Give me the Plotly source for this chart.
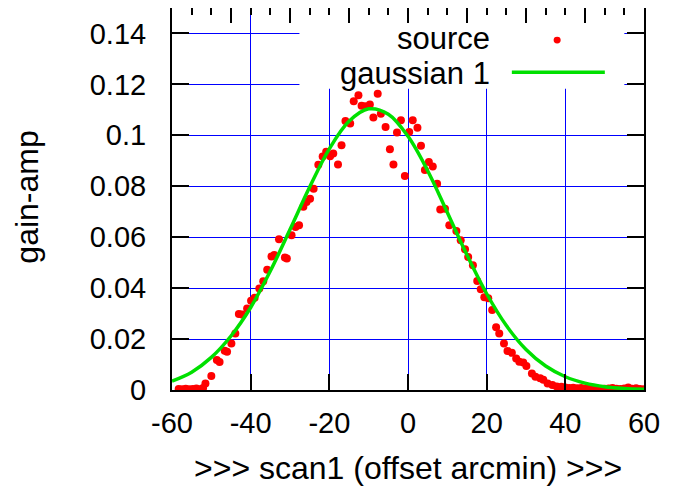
import plotly.graph_objects as go

# measured source points (offset arcmin, gain-amp)
src_x = [-58.3, -57.4, -56.5, -55.6, -54.7, -53.8, -52.9, -52.1, -51.5, -50.0,
         -48.6, -47.9, -46.6, -46.0, -44.9, -43.9, -43.0, -42.2, -40.9, -39.9,
         -39.0, -37.8, -36.8, -35.8, -34.7, -34.0, -32.8, -31.3, -30.8, -29.6,
         -28.6, -27.7, -26.6, -25.8, -24.9, -24.0, -22.8, -21.7, -20.8, -19.8,
         -19.0, -17.8, -16.9, -15.9, -14.7, -13.8, -12.6, -11.8, -10.9, -9.7,
         -8.8, -7.7, -6.9, -5.7, -4.6, -3.7, -2.8, -1.8, -0.8, 0.3,
         1.2, 2.4, 3.3, 4.3, 5.3, 6.3, 7.4, 8.2, 9.4, 10.5,
         12.3, 13.4, 14.5, 15.3, 16.5, 17.6, 18.5, 19.4, 20.4, 21.4,
         22.4, 23.2, 24.4, 25.3, 26.4, 27.5, 28.3, 29.3, 30.1, 31.5,
         32.4, 33.6, 34.4, 35.5, 36.7, 37.8, 39.0, 40.0, 41.0, 42.0,
         43.0, 44.0, 45.0, 46.0, 47.0, 48.0, 49.0, 50.0, 51.0, 52.0,
         53.0, 54.0, 55.0, 56.0, 57.0, 58.0, 59.0, 60.0]
src_y = [0.0004, 0.0003, 0.0005, 0.0003, 0.0004, 0.0006, 0.0003, 0.0008, 0.0026, 0.0055,
         0.0118, 0.0110, 0.0154, 0.0150, 0.0183, 0.0222, 0.0298, 0.0296, 0.0320, 0.0350,
         0.0362, 0.0399, 0.0427, 0.0472, 0.0524, 0.0530, 0.0592, 0.0520, 0.0516, 0.0608,
         0.0640, 0.0647, 0.0720, 0.0738, 0.0751, 0.0790, 0.0884, 0.0917, 0.0936, 0.0918,
         0.0929, 0.0885, 0.0961, 0.1056, 0.1046, 0.1134, 0.1157, 0.1116, 0.1114, 0.1121,
         0.1070, 0.1163, 0.1085, 0.1033, 0.0945, 0.0885, 0.1011, 0.1059, 0.0840, 0.1013,
         0.1059, 0.1030, 0.0959, 0.0864, 0.0895, 0.0878, 0.0810, 0.0709, 0.0712, 0.0647,
         0.0624, 0.0588, 0.0553, 0.0522, 0.0490, 0.0428, 0.0396, 0.0364, 0.0360, 0.0314,
         0.0246, 0.0222, 0.0183, 0.0153, 0.0146, 0.0124, 0.0111, 0.0108, 0.0094, 0.0065,
         0.0052, 0.0046, 0.0040, 0.0026, 0.0020, 0.0014, 0.0013, 0.0010, 0.0008, 0.0009,
         0.0007, 0.0008, 0.0006, 0.0007, 0.0005, 0.0006, 0.0004, 0.0005, 0.0006, 0.0008,
         0.0005, 0.0004, 0.0006, 0.0010, 0.0005, 0.0007, 0.0004, 0.0003]

# gaussian fit curve
fit_x = [-60, -55, -50, -45, -40, -35, -30, -25, -20, -15, -10, -5, 0,
         5, 10, 15, 20, 25, 30, 35, 40, 45, 50, 55, 60]
fit_y = [0.0035, 0.0070, 0.0128, 0.0212, 0.0324, 0.0467, 0.0630, 0.0797, 0.0947,
         0.1055, 0.1104, 0.1083, 0.0996, 0.0861, 0.0697, 0.0530, 0.0378, 0.0253,
         0.0159, 0.0094, 0.0052, 0.0027, 0.0013, 0.0006, 0.0003]

x_ticks = [-60, -40, -20, 0, 20, 40, 60]
x_tick_text = ["-60", "-40", "-20", "0", "20", "40", "60"]
y_ticks = [0, 0.02, 0.04, 0.06, 0.08, 0.1, 0.12, 0.14]
y_tick_text = ["0", "0.02", "0.04", "0.06", "0.08", "0.1", "0.12", "0.14"]

FONT = "Liberation Sans, Arial, sans-serif"

fig = go.Figure()
fig.add_trace(go.Scatter(x=src_x, y=src_y, mode="markers", name="source",
                         marker=dict(color="#ff0000", size=8, line=dict(width=0))))
fig.add_trace(go.Scatter(x=fit_x, y=fit_y, mode="lines", name="gaussian 1",
                         line=dict(color="#00e000", width=3.5, shape="spline")))
fig.add_trace(go.Scatter(x=[], y=[], xaxis="x2", showlegend=False))

# page body has an 8px margin, so the figure is shifted by (8, 8)
fig.update_layout(
    width=668, height=483,
    margin=dict(l=164, r=32, t=0, b=101, autoexpand=False),
    paper_bgcolor="white", plot_bgcolor="white",
    showlegend=False,
    font=dict(family=FONT, size=29, color="black"),
    xaxis=dict(range=[-60, 60], tickvals=x_ticks, ticktext=x_tick_text,
               ticks="inside", ticklen=16,
               tickwidth=2, tickcolor="black", showline=True, linecolor="black",
               linewidth=2, mirror=True, showgrid=True, gridcolor="#0000ff",
               gridwidth=1, zeroline=False, tickfont=dict(size=29),
               ticklabelstandoff=6, automargin=False),
    xaxis2=dict(range=[-60, 60], overlaying="x", side="top", showgrid=False,
                zeroline=False, showticklabels=False, ticks="inside",
                tick0=-45, dtick=15, ticklen=15, tickwidth=2, tickcolor="black",
                minor=dict(dtick=5, tick0=-45, ticklen=7, tickwidth=2,
                           ticks="inside", tickcolor="black", showgrid=False)),
    yaxis=dict(range=[0, 0.15], tickvals=y_ticks, ticktext=y_tick_text,
               ticks="inside", ticklen=17, tickwidth=2, tickcolor="black",
               showline=True, linecolor="black", linewidth=2, mirror="ticks",
               showgrid=True, gridcolor="#0000ff", gridwidth=1, zeroline=False,
               tickfont=dict(size=29), ticklabelstandoff=18, automargin=False),
)

# axis titles
fig.add_annotation(xref="paper", yref="paper", x=0.5, y=-0.204,
                   text=">>> scan1 (offset arcmin) >>>", showarrow=False,
                   xanchor="center", yanchor="middle", font=dict(size=32))
fig.add_annotation(xref="paper", yref="paper", x=-0.306, y=0.505, text="gain-amp",
                   textangle=-90, showarrow=False, xanchor="center",
                   yanchor="middle", font=dict(size=32))

# opaque legend box covering grid lines
fig.add_shape(type="rect", xref="x", yref="y", x0=-27.6, x1=55.0, y0=0.1183, y1=0.1495,
              fillcolor="white", line=dict(width=0), layer="between")

# legend entries (text on left, sample on right, gnuplot style)
fig.add_annotation(xref="paper", yref="paper", x=0.676, y=0.919, text="source",
                   showarrow=False, xanchor="right", yanchor="middle",
                   borderpad=0, font=dict(size=31))
fig.add_annotation(xref="paper", yref="paper", x=0.676, y=0.829, text="gaussian 1",
                   showarrow=False, xanchor="right", yanchor="middle",
                   borderpad=0, font=dict(size=31))
fig.add_shape(type="circle", xref="paper", yref="paper",
              x0=0.816 - 0.0075, x1=0.816 + 0.0075, y0=0.916 - 0.009, y1=0.916 + 0.009,
              fillcolor="#ff0000", line=dict(width=0))
fig.add_shape(type="line", xref="paper", yref="paper", x0=0.720, x1=0.917,
              y0=0.832, y1=0.832, line=dict(color="#00e000", width=3.5))

fig.write_html("out.html")
